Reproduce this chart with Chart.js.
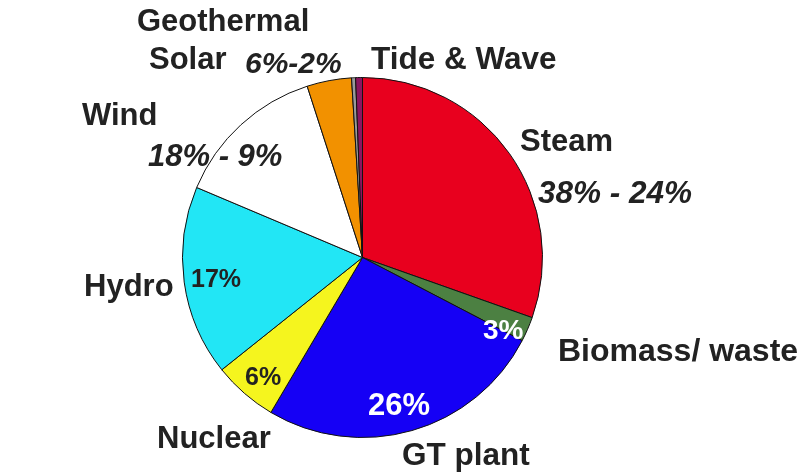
<!DOCTYPE html>
<html>
<head>
<meta charset="utf-8">
<script src="https://cdn.jsdelivr.net/npm/chart.js@4.4.1/dist/chart.umd.min.js"></script>
<style>
  html, body { margin: 0; padding: 0; background: #fff; }
  #wrap { width: 800px; height: 475px; }
</style>
</head>
<body>
<div id="wrap"><canvas id="pie" width="800" height="475"></canvas></div>
<script>
// shares of each source (%)
const sources = ['Steam', 'Biomass/ waste', 'GT plant', 'Nuclear', 'Hydro', 'Wind', 'Solar', 'Geothermal', 'Tide & Wave'];
const shares = [30.42, 2.22, 25.86, 5.78, 17.08, 13.67, 4.0, 0.36, 0.61];
const sliceColors = ['#E8001E', '#4C8042', '#1500F5', '#F5F51E', '#22E6F5', '#FFFFFF', '#F29100', '#9A9A9A', '#8B1560'];

// text shown round the pie
const labelTexts = ['Geothermal', 'Solar', '6%-2%', 'Tide & Wave', 'Wind', '18% - 9%', 'Steam', '38% - 24%',
                    'Hydro', '17%', '3%', 'Biomass/ waste', '6%', '26%', 'Nuclear', 'GT plant'];

// where the texts go: [x, y baseline, size, italic, colour]
const labelLayout = [
    [137, 31, 31, false, '#222'],
    [149, 69, 31, false, '#222'],
    [245, 73, 30, true, '#222'],
    [371, 69, 31.5, false, '#222'],
    [82, 125, 31, false, '#222'],
    [148, 166, 31, true, '#222'],
    [520, 151, 31, false, '#222'],
    [538, 203, 31.5, true, '#222'],
    [84, 296, 31, false, '#222'],
    [191, 287, 25, false, '#222'],
    [483, 339, 28, false, '#fff'],
    [558, 361, 32, false, '#222'],
    [245, 385, 25, false, '#222'],
    [368, 415, 31, false, '#fff'],
    [157, 448, 31, false, '#222'],
    [402, 465, 31.5, false, '#222']
];

const textPlugin = {
    id: 'sliceText',
    afterDraw(chart) {
        const ctx = chart.ctx;
        ctx.save();
        ctx.textAlign = 'left';
        ctx.textBaseline = 'alphabetic';
        labelTexts.forEach(function(t, i) {
            const l = labelLayout[i];
            ctx.font = (l[3] ? 'italic ' : '') + 'bold ' + l[2] + 'px "Liberation Sans", Arial, sans-serif';
            ctx.fillStyle = l[4];
            ctx.fillText(t, l[0], l[1]);
        });
        ctx.restore();
    }
};

const ctx = document.getElementById('pie').getContext('2d');
new Chart(ctx, {
    type: 'pie',
    data: {
        labels: sources,
        datasets: [{
            data: shares,
            backgroundColor: sliceColors,
            borderColor: '#111',
            borderWidth: 1
        }]
    },
    options: {
        responsive: false,
        animation: false,
        layout: {
            padding: { top: 77, bottom: 37, left: 182, right: 257 }
        },
        plugins: {
            legend: { display: false },
            tooltip: { enabled: false }
        }
    },
    plugins: [textPlugin]
});
</script>
</body>
</html>
